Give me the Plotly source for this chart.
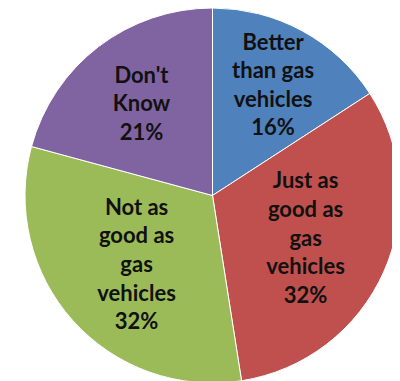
import plotly.graph_objects as go

labels = ["Better<br>than gas<br>vehicles", "Just as<br>good as<br>gas<br>vehicles",
          "Not as<br>good as<br>gas<br>vehicles", "Don't<br>Know"]
values = [16, 32, 32, 21]
colors = ["#4F81BD", "#C0504D", "#9BBB59", "#8064A2"]

fig = go.Figure(go.Pie(
    labels=labels,
    values=values,
    sort=False,
    direction="clockwise",
    rotation=0,
    marker=dict(colors=colors, line=dict(color="white", width=1)),
    texttemplate="%{label}<br>%{value}%",
    textposition="inside",
    insidetextorientation="horizontal",
    textfont=dict(family="Lato", size=22, color="#111111", weight="bold"),
    hoverinfo="skip",
    showlegend=False,
))
fig.update_layout(
    width=400, height=381,
    margin=dict(l=17, r=8, t=0, b=6),
    paper_bgcolor="white",
    uniformtext=dict(minsize=22, mode="show"),
)
fig.write_html("out.html")
